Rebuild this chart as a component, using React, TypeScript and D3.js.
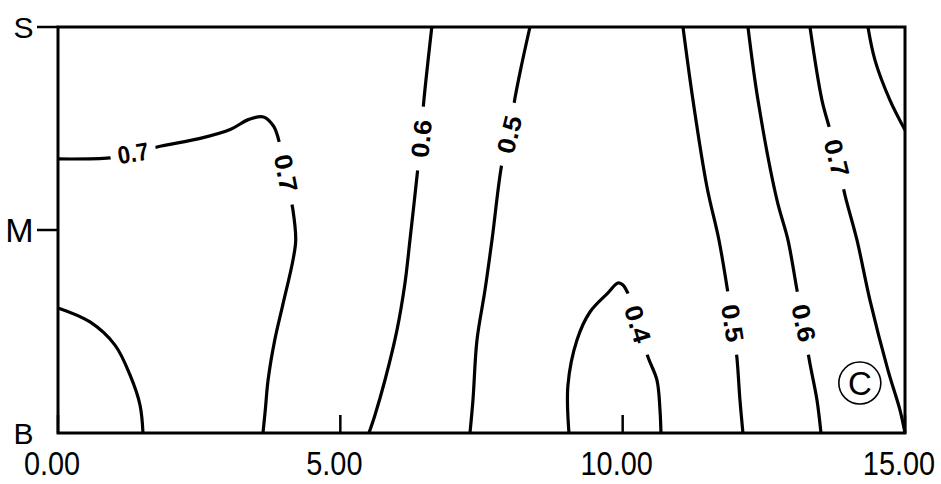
import React from 'react';
import * as d3 from 'd3';

// depth levels on the vertical axis (B = bottom, M = middle, S = surface)
const yLevels = ['B', 'M', 'S'];
const xTicks = [0, 5, 10, 15];
const xTickLabels = ['0.00', '5.00', '10.00', '15.00'];

// contour lines, [distance, depth level] with B = 0, M = 1, S = 2
const c07Left = [[0, 1.35], [0.92, 1.355], [1.34, 1.375], [1.77, 1.41], [2.5, 1.45], [3.05, 1.495], [3.38, 1.545], [3.64, 1.557], [3.82, 1.51], [3.93, 1.42], [4.05, 1.25], [4.16, 1.1], [4.21, 0.95], [4.16, 0.85], [3.98, 0.63], [3.84, 0.46], [3.72, 0.26], [3.67, 0.11], [3.63, 0]];
const c08Left = [[0, 0.616], [0.567, 0.547], [1.009, 0.433], [1.275, 0.286], [1.452, 0.138], [1.505, 0]];
const c06Left = [[6.62, 2], [6.48, 1.64], [6.43, 1.47], [6.375, 1.31], [6.233, 0.951], [6.145, 0.739], [6.003, 0.507], [5.791, 0.261], [5.614, 0.089], [5.507, 0]];
const c05Left = [[8.358, 2], [8.2, 1.8], [8.093, 1.65], [7.99, 1.47], [7.863, 1.33], [7.686, 0.951], [7.562, 0.704], [7.42, 0.458], [7.349, 0.163], [7.296, 0]];
const c04 = [[9.049, 0], [9.031, 0.236], [9.191, 0.458], [9.421, 0.596], [9.74, 0.69], [9.917, 0.739], [10.005, 0.729], [10.129, 0.665], [10.27, 0.537], [10.448, 0.374], [10.607, 0.261], [10.661, 0.113], [10.678, 0]];
const c05Right = [[11.068, 2], [11.245, 1.64], [11.493, 1.212], [11.705, 0.951], [11.865, 0.69], [11.95, 0.542], [12.024, 0.369], [12.077, 0.163], [12.13, 0]];
const c06Right = [[12.219, 2], [12.396, 1.64], [12.732, 1.148], [12.927, 0.951], [13.104, 0.68], [13.21, 0.542], [13.299, 0.369], [13.441, 0.163], [13.512, 0]];
const c07Right = [[13.317, 2], [13.529, 1.64], [13.671, 1.493], [13.795, 1.355], [13.937, 1.172], [14.149, 0.951], [14.379, 0.655], [14.698, 0.31], [14.911, 0.113], [15, 0]];
const c08Right = [[14.344, 2], [14.468, 1.837], [14.733, 1.64], [15, 1.493]];

const contours = [c07Left, c08Left, c06Left, c05Left, c04, c05Right, c06Right, c07Right, c08Right];

// inline contour labels: text, which line, position
const labelTexts = ['0.7', '0.7', '0.6', '0.5', '0.4', '0.5', '0.6', '0.7'];
const labelLines = [c07Left, c07Left, c06Left, c05Left, c04, c05Right, c06Right, c07Right];
const labelAt = [[1.33, 1.38], [4.04, 1.28], [6.43, 1.45], [7.99, 1.47], [10.27, 0.537], [11.95, 0.542], [13.21, 0.542], [13.795, 1.355]];
const labelFlip = [false, false, true, true, false, false, false, false];

const panelMark = 'C';
const panelAt = [14.2, 0.246];

const W = 941;
const H = 484;

const App = () => {
  const x = d3.scaleLinear().domain([0, 15]).range([58, 905]);
  const y = d3.scaleLinear().domain([0, 2]).range([433, 27]);

  const path = d3.line<number[]>()
    .x(d => x(d[0]))
    .y(d => y(d[1]))
    .curve(d3.curveCatmullRom.alpha(0.5));

  // direction of the contour at a label point, in degrees
  const angleAt = (pts: number[][], at: number[], flip: boolean) => {
    const px = pts.map(p => [x(p[0]), y(p[1])]);
    const ax = x(at[0]);
    const ay = y(at[1]);
    let best = 0;
    let bestD = Infinity;
    for (let i = 0; i < px.length - 1; i++) {
      const mx = (px[i][0] + px[i + 1][0]) / 2;
      const my = (px[i][1] + px[i + 1][1]) / 2;
      const d = (mx - ax) ** 2 + (my - ay) ** 2;
      if (d < bestD) { bestD = d; best = i; }
    }
    const a = Math.atan2(px[best + 1][1] - px[best][1], px[best + 1][0] - px[best][0]) * 180 / Math.PI;
    return flip ? a - 180 : a;
  };

  const font = '"Liberation Sans", Arial, sans-serif';

  return (
    <svg width={W} height={H} style={{ position: 'absolute', left: 0, top: 0, background: '#fff' }}>
      <rect x={0} y={0} width={W} height={H} fill="#fff" />

      {contours.map((c, i) => (
        <path key={i} d={path(c) || ''} fill="none" stroke="#000" strokeWidth={3.2} strokeLinejoin="round" />
      ))}

      {labelTexts.map((t, i) => {
        const ang = angleAt(labelLines[i], labelAt[i], labelFlip[i]);
        const horiz = Math.abs(ang) < 30;
        const len = horiz ? 31 : 38;
        const gap = horiz ? 46 : 64;
        return (
          <g key={i} transform={`translate(${x(labelAt[i][0])},${y(labelAt[i][1])}) rotate(${ang})`}>
            <rect x={-gap / 2} y={-13} width={gap} height={26} fill="#fff" />
            <text x={0} y={0} dy="0.36em" textAnchor="middle" fontFamily={font} fontWeight="bold"
              fontSize={25} textLength={len} lengthAdjust="spacingAndGlyphs">{t}</text>
          </g>
        );
      })}

      {/* frame */}
      <rect x={x(0)} y={y(2)} width={x(15) - x(0)} height={y(0) - y(2)} fill="none" stroke="#000" strokeWidth={3} />

      {/* x ticks, drawn inwards */}
      {xTicks.map((t, i) => (
        <g key={t}>
          <line x1={x(t)} x2={x(t)} y1={y(0)} y2={y(0) - 18} stroke="#000" strokeWidth={2.5} />
          <text transform={`translate(${x(t) - 6},475) scale(0.85,1)`} textAnchor="middle" fontFamily={font} fontSize={34}>
            {xTickLabels[i]}
          </text>
        </g>
      ))}

      {/* y ticks, drawn outwards */}
      {yLevels.map((l, i) => (
        <g key={l}>
          {i > 0 && <line x1={x(0) - 21} x2={x(0)} y1={y(i)} y2={y(i)} stroke="#000" strokeWidth={2.5} />}
          <text x={i === 1 ? 19.5 : 23.5} y={y(i)} dy="0.36em" textAnchor="middle" fontFamily={font}
            fontSize={i === 1 ? 34 : 30}>{l}</text>
        </g>
      ))}

      {/* panel mark */}
      <circle cx={x(panelAt[0])} cy={y(panelAt[1])} r={21} fill="none" stroke="#000" strokeWidth={1.6} />
      <text x={x(panelAt[0])} y={y(panelAt[1])} dy="0.36em" textAnchor="middle" fontFamily={font} fontSize={33}>{panelMark}</text>
    </svg>
  );
};

export default App;
